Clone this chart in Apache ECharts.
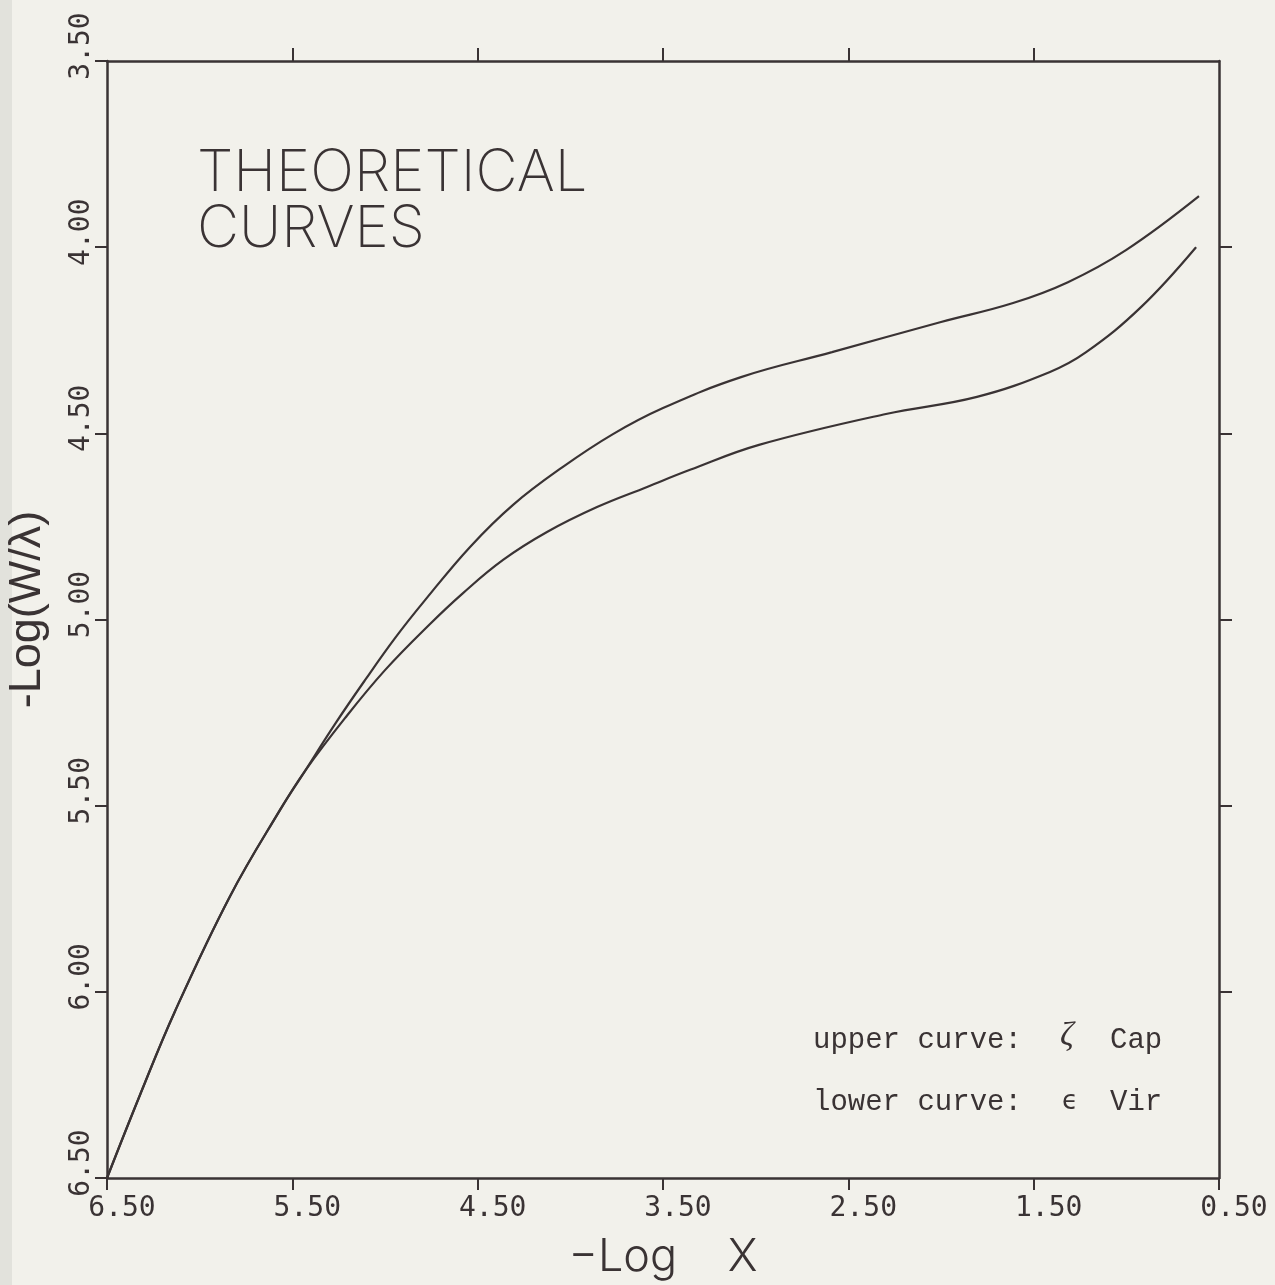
<!DOCTYPE html>
<html>
<head>
<meta charset="utf-8">
<title>Theoretical curves</title>
<script src="https://cdn.jsdelivr.net/npm/echarts@6/dist/echarts.min.js"></script>
<style>
  html, body { margin: 0; padding: 0; background: #f2f1eb; }
  #chart { width: 1275px; height: 1285px; }
</style>
</head>
<body>
<div id="chart"></div>
<script>
// -Log X (abscissa) and -Log(W/lambda) (ordinate) of the two theoretical curves
const upperX = [6.500, 6.322, 6.133, 5.836, 5.567, 5.432, 5.270, 5.108, 4.946, 4.784, 4.541, 4.309, 4.040, 3.770, 3.500, 3.079, 2.588, 2.000, 1.611, 1.315, 1.002, 0.608];
const upperY = [6.500, 6.277, 6.052, 5.743, 5.512, 5.407, 5.281, 5.163, 5.050, 4.948, 4.805, 4.692, 4.590, 4.502, 4.432, 4.349, 4.282, 4.201, 4.150, 4.094, 4.008, 3.863];

const lowerX = [6.500, 6.322, 6.133, 5.836, 5.567, 5.432, 5.216, 5.000, 4.757, 4.579, 4.363, 4.126, 3.856, 3.586, 3.354, 2.982, 2.297, 1.806, 1.412, 1.217, 0.921, 0.624];
const lowerY = [6.500, 6.277, 6.052, 5.743, 5.512, 5.407, 5.265, 5.136, 5.012, 4.929, 4.840, 4.765, 4.698, 4.644, 4.598, 4.531, 4.448, 4.402, 4.335, 4.282, 4.161, 4.000];

// tick values
const xTicks = [6.5, 5.5, 4.5, 3.5, 2.5, 1.5, 0.5];
const xTopTicks = [5.5, 4.5, 3.5, 2.5, 1.5];
const yRightTicks = [4.0, 4.5, 5.0, 5.5, 6.0];

const INK = '#3a3334';
const PAPER = '#f2f1eb';

const pairs = (xs, ys) => xs.map((x, i) => [x, ys[i]]);

const chart = echarts.init(document.getElementById('chart'));

const tickLabelStyle = {
  color: INK,
  fontFamily: 'DejaVu Sans Mono',
  fontSize: 28
};

chart.setOption({
  backgroundColor: PAPER,
  animation: false,
  grid: { left: 107, right: 56, top: 61, bottom: 107, outerBoundsMode: 'none' },
  xAxis: [
    {
      type: 'value', position: 'bottom', min: 0.5, max: 6.5, inverse: true,
      splitLine: { show: false },
      axisLine: { show: true, lineStyle: { color: INK, width: 2.5 } },
      axisTick: { show: true, inside: false, length: 12, customValues: xTicks,
                  lineStyle: { color: INK, width: 2 } },
      axisLabel: Object.assign({
        customValues: xTicks, margin: 17, padding: [0, 0, 0, 30],
        formatter: v => v.toFixed(2)
      }, tickLabelStyle),
      name: '\u2212Log    X', nameLocation: 'middle', nameGap: 57,
      nameTextStyle: { color: INK, fontFamily: 'Inter', fontWeight: 300, fontSize: 45 }
    },
    {
      type: 'value', position: 'top', min: 0.5, max: 6.5, inverse: true,
      splitLine: { show: false },
      axisLine: { show: true, lineStyle: { color: INK, width: 2.5 } },
      axisTick: { show: true, inside: false, length: 13, customValues: xTopTicks,
                  lineStyle: { color: INK, width: 2 } },
      axisLabel: { show: false }
    }
  ],
  yAxis: [
    {
      type: 'value', position: 'left', min: 3.5, max: 6.5, interval: 0.5, inverse: true,
      splitLine: { show: false },
      axisLine: { show: true, lineStyle: { color: INK, width: 2.5 } },
      axisTick: { show: true, inside: false, length: 12, lineStyle: { color: INK, width: 2 } },
      axisLabel: Object.assign({
        rotate: 90, margin: 11, padding: [0, 0, 0, 30],
        formatter: v => v.toFixed(2)
      }, tickLabelStyle),
      name: '-Log(W/\u03bb)', nameLocation: 'middle', nameGap: 57,
      nameTextStyle: { color: INK, fontFamily: 'Liberation Sans', fontSize: 45, padding: [0, 0, 0, 20] }
    },
    {
      type: 'value', position: 'right', min: 3.5, max: 6.5, interval: 0.5, inverse: true,
      splitLine: { show: false },
      axisLine: { show: true, lineStyle: { color: INK, width: 2.5 } },
      axisTick: { show: true, inside: false, length: 13, customValues: yRightTicks,
                  lineStyle: { color: INK, width: 2 } },
      axisLabel: { show: false }
    }
  ],
  series: [
    {
      name: 'upper curve', type: 'line', xAxisIndex: 0, yAxisIndex: 0,
      data: pairs(upperX, upperY), showSymbol: false,
      smooth: 0.4,
      lineStyle: { color: INK, width: 2.2 }
    },
    {
      name: 'lower curve', type: 'line', xAxisIndex: 0, yAxisIndex: 0,
      data: pairs(lowerX, lowerY), showSymbol: false,
      smooth: 0.4,
      lineStyle: { color: INK, width: 2.2 }
    }
  ],
  graphic: [
    // page edge band on the far left
    { type: 'rect', x: 0, y: 0, shape: { width: 12, height: 1285 },
      style: { fill: '#e2e2dc' }, silent: true },
    // heading
    { type: 'text', x: 197, y: 174, style: { text: 'THEORETICAL',
      fill: INK, font: '200 58px Inter', verticalAlign: 'middle' } },
    { type: 'text', x: 197, y: 230, style: { text: 'CURVES',
      fill: INK, font: '200 58px Inter', verticalAlign: 'middle' } },
    // key
    { type: 'text', x: 813, y: 1040, style: { text: 'upper curve:',
      fill: INK, font: '29px "Liberation Mono"', verticalAlign: 'middle' } },
    { type: 'text', x: 1060, y: 1036, style: { text: '\u03b6',
      fill: INK, font: 'italic 34px "Liberation Serif"', verticalAlign: 'middle' } },
    { type: 'text', x: 1110, y: 1040, style: { text: 'Cap',
      fill: INK, font: '29px "Liberation Mono"', verticalAlign: 'middle' } },
    { type: 'text', x: 813, y: 1102, style: { text: 'lower curve:',
      fill: INK, font: '29px "Liberation Mono"', verticalAlign: 'middle' } },
    { type: 'text', x: 1062, y: 1102, style: { text: '\u03f5',
      fill: INK, font: '26px "DejaVu Sans"', verticalAlign: 'middle' } },
    { type: 'text', x: 1110, y: 1102, style: { text: 'Vir',
      fill: INK, font: '29px "Liberation Mono"', verticalAlign: 'middle' } }
  ]
});
</script>
</body>
</html>
